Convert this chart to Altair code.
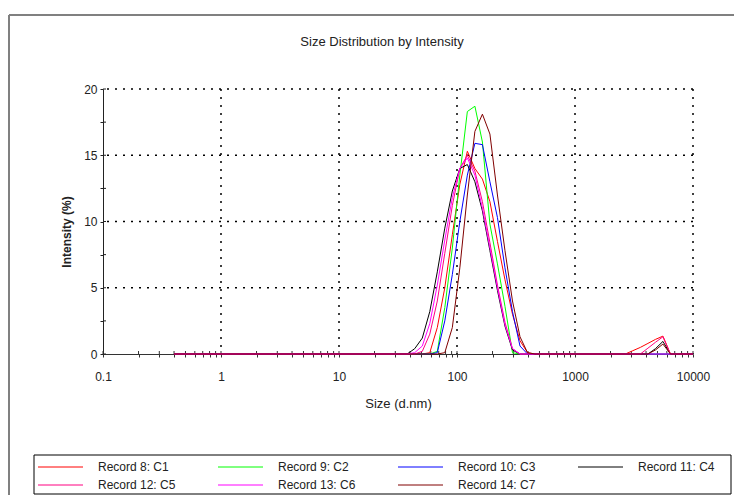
import altair as alt
import pandas as pd

# ---- data ----
sizes = [0.4, 37.8, 43.8, 50.8, 58.8, 68.1, 78.8, 91.3, 105.7, 122.4, 141.8, 164.2,
         190.1, 220.2, 255.0, 295.3, 342.0, 396.1, 458.7,
         2668, 3091, 3582, 4150, 4802, 5561, 6439, 10000]

c1 = [0, 0, 0, 0, 0.1, 2.0, 5.0, 9.0, 12.8, 15.3, 14.0, 13.2, 11.5, 8.5, 5.6, 3.0, 1.0, 0.1, 0,
      0, 0.25, 0.5, 0.8, 1.1, 1.35, 0, 0]
c2 = [0, 0, 0, 0, 0, 0.2, 3.5, 8.0, 13.5, 18.3, 18.7, 16.0, 9.8, 6.8, 3.6, 0.1, 0, 0, 0,
      0, 0, 0, 0, 0, 0, 0, 0]
c3 = [0, 0, 0, 0, 0, 0.1, 2.5, 6.0, 10.0, 13.5, 15.9, 15.8, 13.0, 10.3, 6.5, 3.2, 0.6, 0, 0,
      0, 0, 0, 0, 0, 0, 0, 0]
c4 = [0, 0, 0.4, 1.2, 3.2, 6.2, 9.5, 12.3, 14.0, 14.3, 13.0, 10.8, 7.8, 4.8, 2.1, 0.3, 0, 0, 0,
      0, 0, 0, 0, 0.4, 0.95, 0, 0]
c5 = [0, 0, 0, 0.2, 1.5, 4.0, 7.6, 11.2, 14.0, 15.0, 13.8, 11.5, 8.4, 5.2, 2.4, 0.4, 0, 0, 0,
      0, 0, 0, 0.44, 0.88, 1.3, 0, 0]
c6 = [0, 0, 0.1, 0.6, 2.3, 5.2, 8.6, 11.8, 14.0, 14.8, 13.5, 11.0, 8.0, 5.0, 2.2, 0.4, 0, 0, 0,
      0, 0, 0, 0, 0, 0, 0, 0]
c7 = [0, 0, 0, 0, 0, 0, 0.1, 2.0, 6.5, 12.0, 16.8, 18.1, 16.6, 12.0, 7.8, 4.0, 1.3, 0.1, 0,
      0, 0, 0, 0, 0.3, 0.75, 0, 0]

series_names = ["Record 8: C1", "Record 9: C2", "Record 10: C3", "Record 11: C4",
                "Record 12: C5", "Record 13: C6", "Record 14: C7"]
series_colors = ["#ff0000", "#00ff00", "#0000ff", "#000000", "#ff0080", "#ff00ff", "#800000"]

x_decades = [0.1, 1, 10, 100, 1000, 10000]
x_multipliers = [1, 2, 3, 4, 5, 6, 7, 8, 9]
y_ticks = [0, 2.5, 5, 7.5, 10, 12.5, 15, 17.5, 20]
grid_x = [1, 10, 100, 1000, 10000]
grid_y = [5, 10, 15, 20]

chart_title = "Size Distribution by Intensity"
x_title = "Size (d.nm)"
y_title = "Intensity (%)"

FONT = "Liberation Sans"

# ---- tables ----
rows = []
for i, (name, vals) in enumerate(zip(series_names, [c1, c2, c3, c4, c5, c6, c7])):
    for s, v in zip(sizes, vals):
        rows.append({"size": s, "intensity": v, "series": name, "rank": i})
df = pd.DataFrame(rows)

# legend layout (4 columns, row-major)
leg = pd.DataFrame({"series": series_names})
leg["col"] = [i % 4 for i in range(len(series_names))]
leg["row"] = [i // 4 for i in range(len(series_names))]
leg["lx"] = -65 + leg["col"] * 180
leg["lx2"] = leg["lx"] + 45
leg["tx"] = leg["lx"] + 60
leg["ly"] = 378 + leg["row"] * 18

x_tick_values = [d * m for d in x_decades[:-1] for m in x_multipliers] + [x_decades[-1]]

x_scale = alt.Scale(type="log", domain=[0.1, 10000], nice=False)
y_scale = alt.Scale(domain=[0, 20], nice=False, zero=True)
color_scale = alt.Scale(domain=series_names, range=series_colors)

x_axis = alt.Axis(values=x_tick_values, format="~g",
                  labelExpr="indexof([0.1,1,10,100,1000,10000], datum.value) >= 0 ? datum.label : ''",
                  title=x_title, grid=False, tickSize=3, labelPadding=14,
                  titlePadding=15, labelFlush=False, labelOverlap=False,
                  domainColor="#333", tickColor="#333",
                  labelFontSize=12, titleFontSize=13, titleFontWeight="normal",
                  labelFont=FONT, titleFont=FONT, labelColor="#222", titleColor="#222")
y_axis = alt.Axis(values=y_ticks, labelExpr="datum.value % 5 == 0 ? datum.label : ''",
                  title=None, grid=False, tickSize=3, labelPadding=3,
                  labelFlush=False, labelOverlap=False,
                  domainColor="#222", tickColor="#222",
                  labelFontSize=12, labelFont=FONT, labelColor="#222")

lines = alt.Chart(df).mark_line(strokeWidth=1).encode(
    x=alt.X("size:Q", scale=x_scale, axis=x_axis),
    y=alt.Y("intensity:Q", scale=y_scale, axis=y_axis),
    color=alt.Color("series:N", scale=color_scale, legend=None),
)

vgrid = alt.Chart(pd.DataFrame({"size": grid_x})).mark_rule(
    color="black", strokeWidth=1.5, strokeDash=[2, 6]
).encode(x=alt.X("size:Q", scale=x_scale, axis=x_axis))

hgrid = alt.Chart(pd.DataFrame({"intensity": grid_y})).mark_rule(
    color="black", strokeWidth=1.5, strokeDash=[2, 6]
).encode(y=alt.Y("intensity:Q", scale=y_scale, axis=y_axis))

# inner halves of the crossing tick marks
x_inner = alt.Chart(pd.DataFrame({"size": x_tick_values})).mark_rule(
    color="#333", strokeWidth=1
).encode(x=alt.X("size:Q", scale=x_scale, axis=x_axis), y=alt.value(262), y2=alt.value(265))
y_inner = alt.Chart(pd.DataFrame({"intensity": y_ticks})).mark_rule(
    color="#222", strokeWidth=1
).encode(y=alt.Y("intensity:Q", scale=y_scale, axis=y_axis), x=alt.value(0), x2=alt.value(3))

title_txt = alt.Chart(pd.DataFrame({"t": [chart_title]})).mark_text(
    font=FONT, fontSize=13, color="#222", align="center", baseline="middle"
).encode(text="t:N", x=alt.value(279), y=alt.value(-47))

ytitle_txt = alt.Chart(pd.DataFrame({"t": [y_title]})).mark_text(
    font=FONT, fontSize=12, fontWeight="bold", color="#222", align="center",
    baseline="middle", angle=270
).encode(text="t:N", x=alt.value(-36), y=alt.value(143))

frame_top = alt.Chart(pd.DataFrame({"a": [0]})).mark_rule(color="#808080", strokeWidth=2).encode(
    x=alt.value(-94), x2=alt.value(640), y=alt.value(-74))
frame_left = alt.Chart(pd.DataFrame({"a": [0]})).mark_rule(color="#808080", strokeWidth=2).encode(
    x=alt.value(-94), y=alt.value(-74), y2=alt.value(410))

legend_box = alt.Chart(pd.DataFrame({"a": [0]})).mark_rect(
    fill="white", fillOpacity=0, stroke="black", strokeWidth=1
).encode(x=alt.value(-69), x2=alt.value(628), y=alt.value(366), y2=alt.value(405))

legend_lines = alt.Chart(leg).mark_rule(strokeWidth=1).encode(
    x=alt.X("lx:Q", scale=None, axis=None),
    x2="lx2:Q",
    y=alt.Y("ly:Q", scale=None, axis=None),
    color=alt.Color("series:N", scale=color_scale, legend=None),
)
legend_text = alt.Chart(leg).mark_text(
    font=FONT, fontSize=12, color="#222", align="left", baseline="middle"
).encode(
    x=alt.X("tx:Q", scale=None, axis=None),
    y=alt.Y("ly:Q", scale=None, axis=None),
    text="series:N",
)

chart = alt.layer(
    frame_top, frame_left, legend_box, title_txt, ytitle_txt, vgrid, hgrid,
    x_inner, y_inner, lines, legend_lines, legend_text
).properties(
    width=590, height=265,
    padding={"left": 95, "top": 81, "right": 41, "bottom": 141},
    autosize=alt.AutoSizeParams(type="none"),
    background="white",
).resolve_scale(x="shared", y="shared").configure_view(stroke=None)

chart.save("out.html", embed_options={"renderer": "svg", "actions": False})
